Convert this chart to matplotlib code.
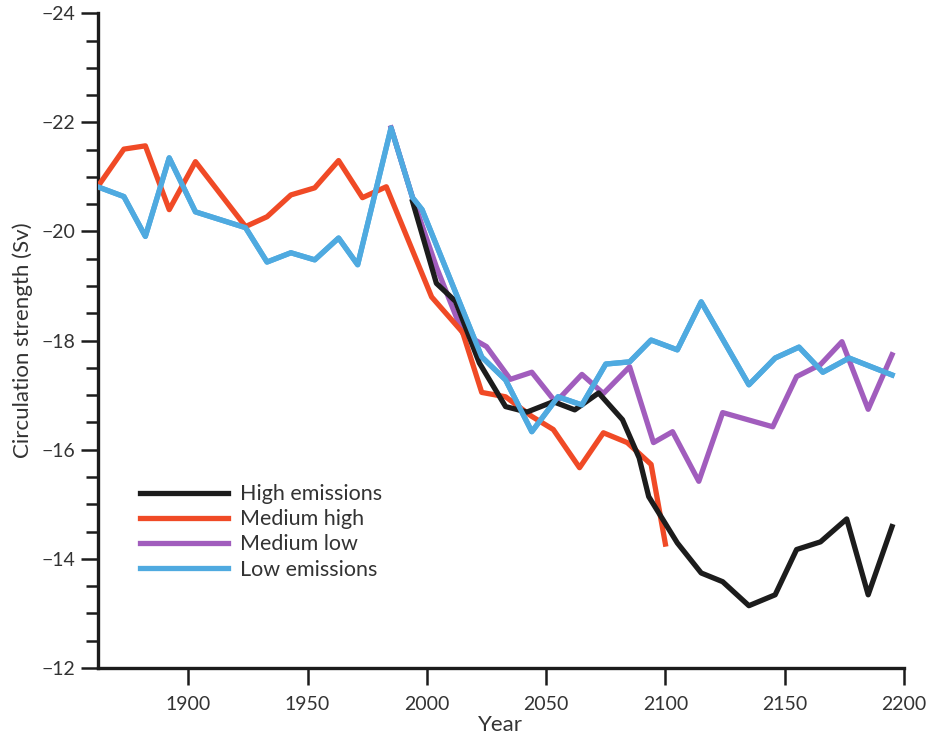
import matplotlib
matplotlib.use('Agg')
import matplotlib.pyplot as plt
from matplotlib.ticker import MultipleLocator

plt.rcParams['font.family'] = ['Lato', 'DejaVu Sans']

# values
hist_years = [1862, 1873, 1882, 1892, 1903, 1924, 1933, 1943, 1953, 1963, 1971, 1985, 1994, 1998]
low_years = hist_years + [2023, 2033, 2044, 2055, 2065, 2075, 2085, 2094, 2105, 2115, 2135, 2146, 2156, 2166, 2177, 2195]
low_vals = [-20.82, -20.64, -19.91, -21.35, -20.36, -20.07, -19.44, -19.61, -19.48, -19.88, -19.39, -21.90, -20.62, -20.40,
            -17.70, -17.28, -16.33, -16.97, -16.82, -17.57, -17.61, -18.01, -17.83, -18.71, -17.19, -17.68, -17.88, -17.42, -17.68, -17.37]

medhigh_years = [1862, 1873, 1882, 1892, 1903, 1924, 1933, 1943, 1953, 1963, 1973, 1983,
                 2002, 2015, 2023, 2033, 2044, 2053, 2064, 2074, 2084, 2094, 2100]
medhigh_vals = [-20.82, -21.51, -21.57, -20.40, -21.28, -20.09, -20.27, -20.67, -20.80, -21.30, -20.62, -20.82,
                -18.80, -18.15, -17.05, -16.97, -16.61, -16.37, -15.67, -16.31, -16.13, -15.73, -14.27]

high_years = [1994, 2004, 2012, 2022, 2033, 2042, 2053, 2062, 2072, 2082, 2089, 2093,
              2105, 2115, 2124, 2135, 2146, 2155, 2165, 2176, 2185, 2195]
high_vals = [-20.55, -19.05, -18.72, -17.59, -16.79, -16.69, -16.88, -16.73, -17.04, -16.55, -15.85, -15.14,
             -14.29, -13.74, -13.58, -13.14, -13.34, -14.17, -14.31, -14.73, -13.34, -14.59]

medlow_years = [1985, 1994, 2004, 2015, 2025, 2035, 2044, 2054, 2065, 2074, 2085, 2095, 2103,
                2114, 2124, 2145, 2155, 2165, 2174, 2185, 2195]
medlow_vals = [-21.90, -20.62, -19.35, -18.14, -17.89, -17.29, -17.42, -16.87, -17.38, -17.03, -17.52, -16.13, -16.33,
               -15.42, -16.68, -16.42, -17.34, -17.56, -17.98, -16.74, -17.74]

labels = ['High emissions', 'Medium high', 'Medium low', 'Low emissions']
colors = ['#1c1c1c', '#f04a26', '#a15dbd', '#4faae0']

fig = plt.figure(figsize=(9.3, 7.38), dpi=100)
ax = fig.add_axes([0.105, 0.095, 0.867, 0.887])

lw = 3.8
ax.plot(low_years, low_vals, color=colors[3], lw=lw, label=labels[3], zorder=2)
ax.plot(medlow_years, medlow_vals, color=colors[2], lw=lw, label=labels[2], zorder=3)
ax.plot(medhigh_years, medhigh_vals, color=colors[1], lw=lw, label=labels[1], zorder=4)
ax.plot(high_years, high_vals, color=colors[0], lw=lw, label=labels[0], zorder=5)
# low emissions drawn again on top where the lines overlap
ax.plot(low_years, low_vals, color=colors[3], lw=lw, zorder=6)

ax.set_xlim(1862, 2200)
ax.set_ylim(-12, -24)
ax.set_xticks([1900, 1950, 2000, 2050, 2100, 2150, 2200])
ax.yaxis.set_major_locator(MultipleLocator(2))
ax.yaxis.set_minor_locator(MultipleLocator(0.5))

for s in ['top', 'right']:
    ax.spines[s].set_visible(False)
for s in ['left', 'bottom']:
    ax.spines[s].set_linewidth(2.4)
    ax.spines[s].set_color('#1c1c1c')

ax.tick_params(axis='both', which='major', direction='out', length=12, width=1.8,
               color='#1c1c1c', labelsize=14, labelcolor='#333333', pad=4)
ax.tick_params(axis='x', which='major', pad=8)
ax.tick_params(axis='y', which='minor', direction='out', length=9, width=1.8, color='#1c1c1c')

ax.set_xlabel('Year', fontsize=16, color='#333333', labelpad=2)
ax.set_ylabel('Circulation strength (Sv)', fontsize=16, color='#333333', labelpad=6)

hmap = dict(zip(*ax.get_legend_handles_labels()[::-1]))
leg = ax.legend([hmap[l] for l in labels], labels, loc='upper left', bbox_to_anchor=(0.0414, 0.294),
                frameon=False, fontsize=15.5, handlelength=4.1, handletextpad=0.56, labelspacing=0.24,
                borderaxespad=0)
for t in leg.get_texts():
    t.set_color('#333333')

fig.savefig('out.png', dpi=100)
